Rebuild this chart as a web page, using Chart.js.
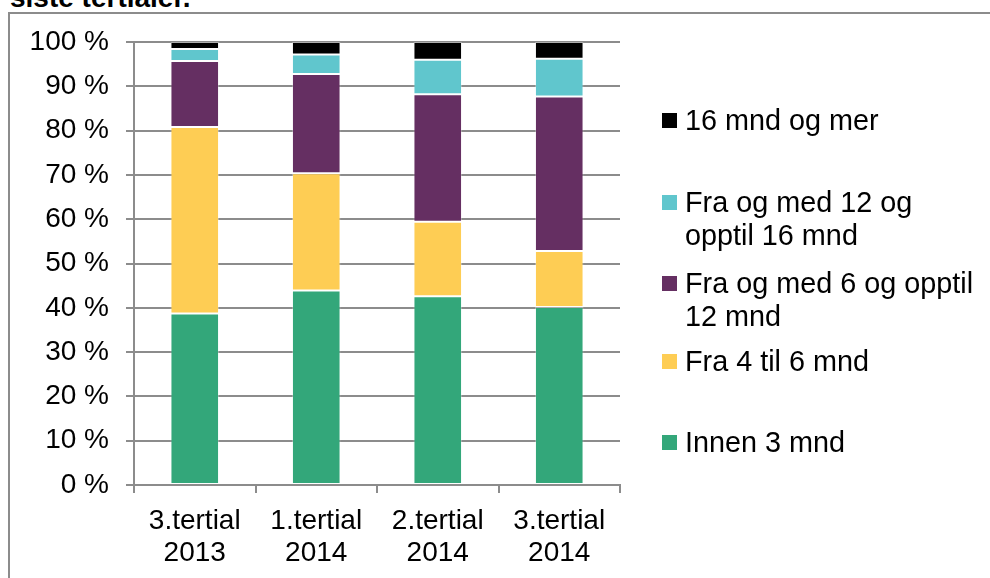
<!DOCTYPE html>
<html>
<head>
<meta charset="utf-8">
<script src="https://cdn.jsdelivr.net/npm/chart.js@4/dist/chart.umd.min.js"></script>
<style>
    html, body { margin: 0; padding: 0; background: #fff; }
    #wrap { position: relative; width: 990px; height: 578px; overflow: hidden; font-family: 'Liberation Sans', Arial, sans-serif; }
    #title { position: absolute; left: 10px; top: -16px; font-size: 28px; line-height: 27px; font-weight: bold; color: #000; white-space: nowrap; }
    #frame { position: absolute; left: 8px; top: 12px; width: 1000px; height: 620px; border: 2px solid #8c8c8c; box-sizing: border-box; }
    #chart { position: absolute; left: 0; top: 0; }
    .leg-item { position: absolute; left: 662px; font-size: 28.8px; line-height: 33px; color: #000; }
    .leg-box { position: absolute; left: 0; top: 9px; width: 15px; height: 15px; }
    .leg-text { position: absolute; left: 23px; top: 0; white-space: pre; }
</style>
</head>
<body>
<div id="wrap">
    <div id="title">siste tertialer.</div>
    <div id="frame"></div>
    <canvas id="chart" width="990" height="578"></canvas>
    <div id="legend"></div>
</div>
<script>
/* ============================
   Datos
============================ */
const CATEGORIES = [
    ['3.tertial', '2013'],
    ['1.tertial', '2014'],
    ['2.tertial', '2014'],
    ['3.tertial', '2014']
]

const SERIES_LABELS = [
    'Innen 3 mnd',
    'Fra 4 til 6 mnd',
    'Fra og med 6 og opptil\n12 mnd',
    'Fra og med 12 og\nopptil 16 mnd',
    '16 mnd og mer'
]

// percent share of each group per tertial
const INNEN_3 = [38.7, 43.9, 42.6, 40.2]
const FRA_4_TIL_6 = [42.1, 26.5, 16.8, 12.6]
const FRA_6_TIL_12 = [14.9, 22.4, 28.8, 34.9]
const FRA_12_TIL_16 = [2.7, 4.4, 7.8, 8.5]
const MER_ENN_16 = [1.6, 2.8, 4.0, 3.8]

const Y_TICKS = [0, 10, 20, 30, 40, 50, 60, 70, 80, 90, 100]

/* ============================
   Estilos
============================ */
const COLORS = ['#33a77a', '#fecd54', '#652f62', '#60c6cd', '#000000']
const FONT = { family: "'Liberation Sans', Arial, sans-serif", size: 28, lineHeight: 1.15 }
const GRID_COLOR = '#8c8c8c'
const LEGEND_TOPS = [104, 186, 267, 345, 426]

const SERIES_DATA = [INNEN_3, FRA_4_TIL_6, FRA_6_TIL_12, FRA_12_TIL_16, MER_ENN_16]

const chart = new Chart(document.getElementById('chart').getContext('2d'), {
    type: 'bar',
    data: {
        labels: CATEGORIES,
        datasets: SERIES_DATA.map((data, i) => ({
            label: SERIES_LABELS[i],
            data,
            backgroundColor: COLORS[i],
            borderColor: 'rgba(255,255,255,0.3)',
            borderWidth: 1,
            borderSkipped: false,
            barPercentage: 0.4,
            categoryPercentage: 1
        }))
    },
    options: {
        responsive: false,
        animation: false,
        layout: { padding: { left: 0, top: 42, right: 370, bottom: 0 } },
        plugins: {
            legend: { display: false },
            tooltip: { enabled: false }
        },
        scales: {
            x: {
                stacked: true,
                afterFit: scale => { scale.height = 93 },
                grid: {
                    offset: true,
                    drawOnChartArea: false,
                    drawTicks: true,
                    tickLength: 8,
                    color: GRID_COLOR,
                    lineWidth: 2
                },
                border: { display: true, color: GRID_COLOR, width: 2 },
                ticks: { font: FONT, color: '#000', padding: 12, maxRotation: 0 }
            },
            y: {
                stacked: true,
                min: 0,
                max: 100,
                afterFit: scale => { scale.width = 134 },
                afterBuildTicks: scale => { scale.ticks = Y_TICKS.map(v => ({ value: v })) },
                grid: {
                    color: GRID_COLOR,
                    lineWidth: 2,
                    drawTicks: true,
                    tickLength: 8
                },
                border: { display: true, color: GRID_COLOR, width: 2 },
                ticks: {
                    font: FONT,
                    color: '#000',
                    padding: 17,
                    callback: v => `${v} %`
                }
            }
        }
    }
})

// ============================
// Leyenda (orden invertido)
// ============================
const legendEl = document.getElementById('legend')
chart.data.datasets.slice().reverse().forEach((ds, i) => {
    const item = document.createElement('div')
    item.className = 'leg-item'
    item.style.top = `${LEGEND_TOPS[i]}px`
    const box = document.createElement('span')
    box.className = 'leg-box'
    box.style.background = ds.backgroundColor
    const text = document.createElement('span')
    text.className = 'leg-text'
    text.textContent = ds.label
    item.appendChild(box)
    item.appendChild(text)
    legendEl.appendChild(item)
})
</script>
</body>
</html>
